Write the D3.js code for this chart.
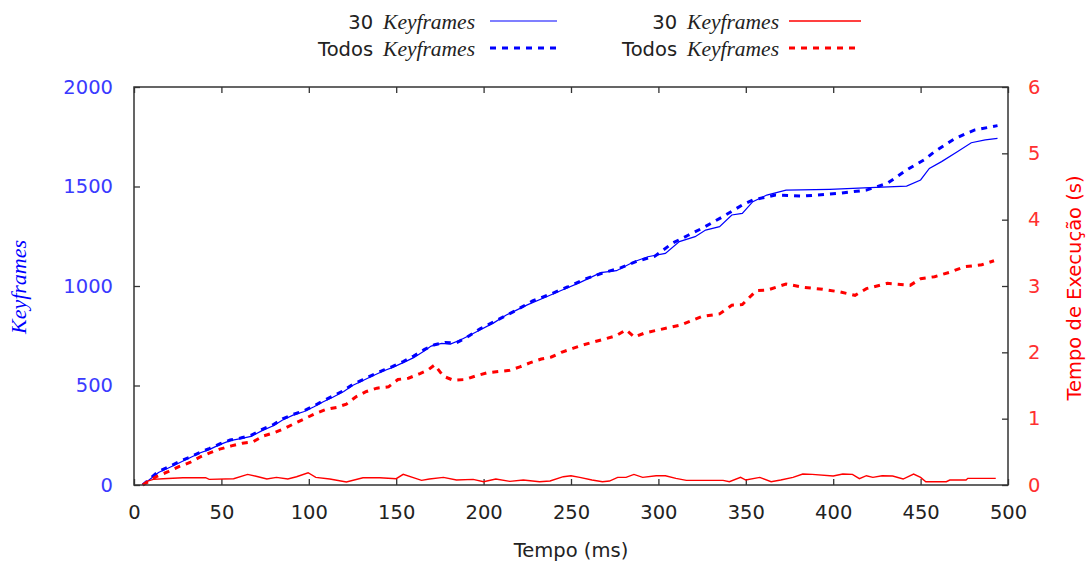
<!DOCTYPE html>
<html>
<head>
<meta charset="utf-8">
<script src="https://cdn.jsdelivr.net/npm/d3@7"></script>
<style>
  body { margin: 0; background: #fff; }
  svg { display: block; }
</style>
</head>
<body>
<script>
const width = 1087;
const height = 563;
const plot = {left: 134, right: 1008, top: 87, bottom: 485};

// x values (ms) and series values
const kf30Ms = [5, 14, 20, 26, 32, 38, 43, 49, 55, 61, 67, 73, 80, 85, 91, 97, 103, 108, 114, 120, 125, 131, 137, 143, 148, 154, 160, 166, 170, 176, 181, 187, 196, 206, 213, 225, 236, 244, 255, 267, 276, 286, 294, 304, 312, 321, 327, 335, 342, 348, 354, 362, 373, 398, 421, 442, 450, 455, 462, 471, 479, 487, 494];
const kf30 = [0, 63, 87, 112, 137, 162, 178, 203, 223, 233, 244, 272, 299, 327, 351, 368, 393, 417, 442, 470, 500, 525, 550, 574, 591, 615, 640, 673, 698, 712, 708, 730, 770, 816, 854, 905, 946, 976, 1017, 1067, 1077, 1122, 1147, 1164, 1223, 1248, 1281, 1298, 1357, 1365, 1424, 1457, 1482, 1486, 1494, 1502, 1533, 1591, 1625, 1675, 1720, 1734, 1742];

const kfAllMs = [5, 14, 20, 26, 32, 38, 43, 49, 55, 61, 67, 73, 80, 85, 91, 97, 103, 108, 114, 120, 125, 131, 137, 143, 148, 154, 160, 166, 172, 178, 184, 190, 198, 208, 219, 228, 238, 248, 258, 268, 278, 288, 298, 308, 317, 325, 337, 348, 354, 367, 383, 404, 419, 431, 442, 452, 458, 469, 475, 481, 494];
const kfAll = [0, 68, 92, 118, 140, 165, 183, 206, 226, 236, 250, 278, 305, 332, 355, 372, 398, 422, 448, 475, 505, 530, 555, 578, 596, 620, 648, 680, 705, 716, 713, 740, 785, 830, 880, 925, 958, 995, 1035, 1065, 1090, 1125, 1150, 1215, 1255, 1290, 1349, 1407, 1432, 1457, 1452, 1466, 1482, 1516, 1583, 1634, 1675, 1737, 1762, 1784, 1806];

const time30Ms = [5, 7, 11, 16.6, 28, 41, 43, 57, 65, 71, 76, 81.5, 88, 93, 99.6, 104, 112, 121.5, 131, 140.6, 150, 154, 164.5, 169, 177, 184.5, 194, 200, 207, 215, 222.7, 232, 238, 245.6, 250, 255, 262, 268, 272, 276.7, 281.5, 286, 291, 298.7, 304, 310, 316, 337, 340.6, 347, 350, 358, 364.5, 370, 377, 382.6, 388, 400, 405.5, 411, 415, 419, 422.7, 428, 434, 440, 446, 450, 453, 464.7, 466.7, 476, 477, 493];
const time30 = [0, 0.05, 0.085, 0.095, 0.11, 0.11, 0.085, 0.095, 0.16, 0.125, 0.09, 0.115, 0.09, 0.125, 0.185, 0.115, 0.09, 0.045, 0.11, 0.11, 0.095, 0.16, 0.07, 0.09, 0.115, 0.075, 0.085, 0.05, 0.09, 0.055, 0.075, 0.05, 0.06, 0.125, 0.14, 0.115, 0.075, 0.05, 0.06, 0.115, 0.115, 0.16, 0.115, 0.14, 0.14, 0.1, 0.07, 0.07, 0.05, 0.115, 0.075, 0.115, 0.05, 0.075, 0.115, 0.165, 0.16, 0.135, 0.165, 0.16, 0.095, 0.14, 0.115, 0.14, 0.135, 0.09, 0.165, 0.115, 0.05, 0.05, 0.075, 0.075, 0.1, 0.1];

const timeAllMs = [5, 13, 19.5, 26, 32, 37.6, 43, 49, 55.7, 62, 68, 74, 80.5, 86, 92, 97.7, 104, 110, 116, 121.5, 127, 133, 139, 145.6, 151, 157, 163.6, 168, 172, 177, 182.6, 189.4, 195, 201.7, 208.4, 215, 220.7, 226.4, 233, 238.8, 244.5, 251, 256.8, 263.5, 269, 275.8, 281.5, 286.3, 292, 298.6, 312.5, 325, 335, 342, 348, 356, 362.5, 373, 383, 394, 404, 412.5, 419, 431, 444, 450, 458, 467, 475, 485, 492];
const timeAll = [0, 0.13, 0.2, 0.28, 0.34, 0.42, 0.48, 0.54, 0.59, 0.63, 0.65, 0.74, 0.79, 0.85, 0.93, 1.0, 1.08, 1.14, 1.17, 1.22, 1.33, 1.41, 1.46, 1.48, 1.59, 1.61, 1.68, 1.73, 1.81, 1.64, 1.58, 1.59, 1.64, 1.69, 1.71, 1.73, 1.78, 1.84, 1.9, 1.93, 2.0, 2.06, 2.11, 2.16, 2.2, 2.25, 2.34, 2.23, 2.29, 2.33, 2.41, 2.54, 2.58, 2.71, 2.72, 2.93, 2.94, 3.03, 2.98, 2.95, 2.91, 2.86, 2.96, 3.04, 3.01, 3.11, 3.14, 3.21, 3.29, 3.32, 3.38];

const xTicks = [0, 50, 100, 150, 200, 250, 300, 350, 400, 450, 500];
const yLeftTicks = [0, 500, 1000, 1500, 2000];
const yRightTicks = [0, 1, 2, 3, 4, 5, 6];

const BLUE = '#0000ff';
const RED = '#ff0000';
const sans = '"DejaVu Sans", Verdana, sans-serif';
const serif = '"Liberation Serif", "Times New Roman", serif';
const fs = '19.5px';

const svg = d3.select('body')
  .append('svg')
  .attr('width', width)
  .attr('height', height);

const x = d3.scaleLinear().domain([0, 500]).range([plot.left, plot.right]);
const yL = d3.scaleLinear().domain([0, 2000]).range([plot.bottom, plot.top]);
const yR = d3.scaleLinear().domain([0, 6]).range([plot.bottom, plot.top]);

function styleAxis(g, color) {
  g.select('.domain').remove();
  g.selectAll('.tick line').attr('stroke', '#333').attr('stroke-width', 1.3);
  g.selectAll('.tick text')
    .attr('fill', color)
    .style('font-family', sans)
    .style('font-size', fs);
}

// bottom axis
svg.append('g')
  .attr('transform', `translate(0, ${plot.bottom})`)
  .call(d3.axisBottom(x).tickValues(xTicks).tickSize(-6).tickPadding(20).tickFormat(d3.format('d')))
  .call(g => styleAxis(g, '#222'));

// top mirror ticks
svg.append('g')
  .attr('transform', `translate(0, ${plot.top})`)
  .call(d3.axisTop(x).tickValues(xTicks).tickSize(-6).tickFormat(''))
  .call(g => styleAxis(g, '#222'));

// left axis
svg.append('g')
  .attr('transform', `translate(${plot.left}, 0)`)
  .call(d3.axisLeft(yL).tickValues(yLeftTicks).tickSize(-6).tickPadding(21).tickFormat(d3.format('d')))
  .call(g => styleAxis(g, '#3a3aff'));

// right axis
svg.append('g')
  .attr('transform', `translate(${plot.right}, 0)`)
  .call(d3.axisRight(yR).tickValues(yRightTicks).tickSize(-6).tickPadding(20).tickFormat(d3.format('d')))
  .call(g => styleAxis(g, '#ff3030'));

// series
const series = [
  {ms: kf30Ms, v: kf30, y: yL, color: BLUE, w: 1.2, dash: null},
  {ms: kfAllMs, v: kfAll, y: yL, color: BLUE, w: 3, dash: '6,6'},
  {ms: time30Ms, v: time30, y: yR, color: RED, w: 1.4, dash: null},
  {ms: timeAllMs, v: timeAll, y: yR, color: RED, w: 3, dash: '6,6'}
];

series.forEach(s => {
  const pts = s.ms.map((m, i) => [m, s.v[i]]);
  const line = d3.line().x(d => x(d[0])).y(d => s.y(d[1]));
  svg.append('path')
    .datum(pts)
    .attr('fill', 'none')
    .attr('stroke', s.color)
    .attr('stroke-width', s.w)
    .attr('stroke-dasharray', s.dash)
    .attr('d', line);
});

// frame
svg.append('rect')
  .attr('x', plot.left)
  .attr('y', plot.top)
  .attr('width', plot.right - plot.left)
  .attr('height', plot.bottom - plot.top)
  .attr('fill', 'none')
  .attr('stroke', '#333')
  .attr('stroke-width', 1.5);

// axis titles
svg.append('text')
  .attr('x', (plot.left + plot.right) / 2)
  .attr('y', 557)
  .attr('text-anchor', 'middle')
  .attr('fill', '#222')
  .style('font-family', sans)
  .style('font-size', fs)
  .text('Tempo (ms)');

svg.append('text')
  .attr('transform', 'translate(26, 287) rotate(-90)')
  .attr('text-anchor', 'middle')
  .attr('fill', BLUE)
  .style('font-family', serif)
  .style('font-style', 'italic')
  .style('font-size', '22px')
  .text('Keyframes');

svg.append('text')
  .attr('transform', 'translate(1081, 288) rotate(-90)')
  .attr('text-anchor', 'middle')
  .attr('fill', RED)
  .style('font-family', sans)
  .style('font-size', fs)
  .text('Tempo de Execução (s)');

// legend
const legendItems = [
  {label: '30', col: 0, row: 0, color: BLUE, w: 1.2, dash: null},
  {label: 'Todos', col: 0, row: 1, color: BLUE, w: 3, dash: '6,6'},
  {label: '30', col: 1, row: 0, color: RED, w: 1.4, dash: null},
  {label: 'Todos', col: 1, row: 1, color: RED, w: 3, dash: '6,6'}
];
const colTextEnd = [475, 779];
const colLine = [[490, 557], [789, 861]];

legendItems.forEach(d => {
  const yBase = 29 + d.row * 27;
  const t = svg.append('text')
    .attr('x', colTextEnd[d.col])
    .attr('y', yBase)
    .attr('text-anchor', 'end')
    .attr('fill', '#222')
    .style('font-family', sans)
    .style('font-size', fs);
  t.append('tspan').text(d.label);
  t.append('tspan')
    .attr('dx', 10)
    .style('font-family', serif)
    .style('font-style', 'italic')
    .style('font-size', '21.5px')
    .text('Keyframes');
  svg.append('line')
    .attr('x1', colLine[d.col][0])
    .attr('x2', colLine[d.col][1])
    .attr('y1', yBase - 8)
    .attr('y2', yBase - 8)
    .attr('stroke', d.color)
    .attr('stroke-width', d.w)
    .attr('stroke-dasharray', d.dash);
});
</script>
</body>
</html>
